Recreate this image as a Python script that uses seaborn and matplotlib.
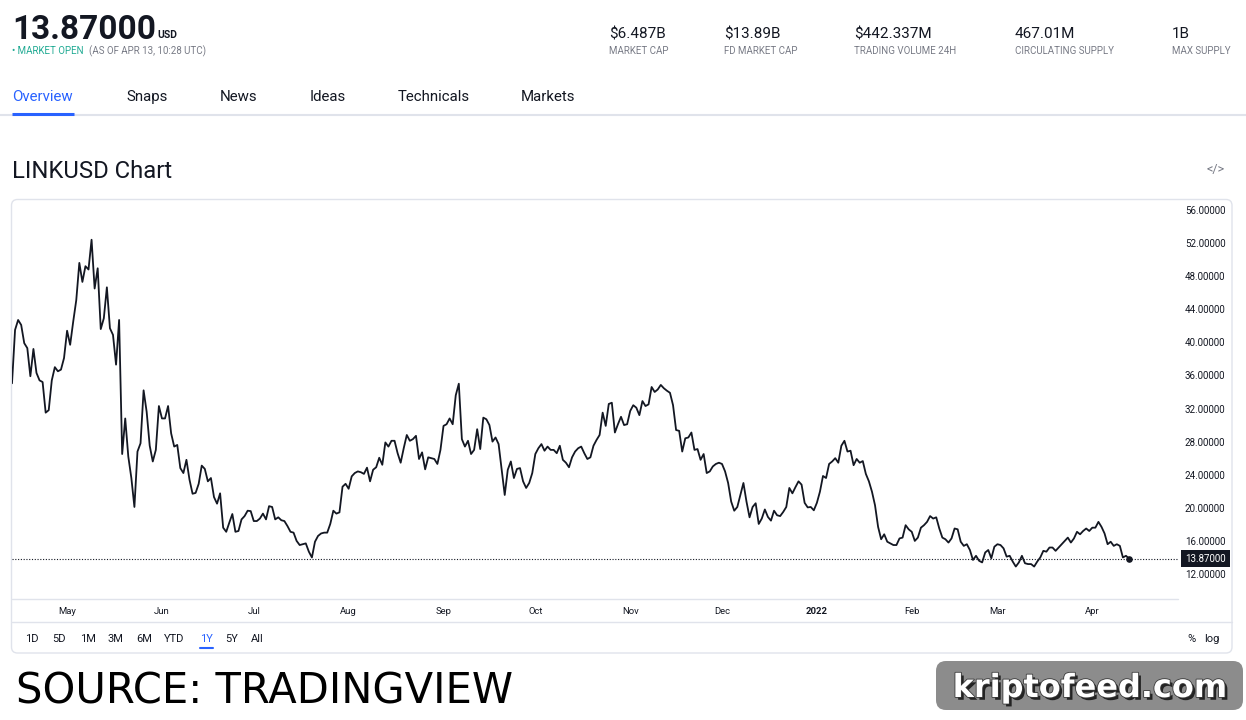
import matplotlib
matplotlib.use('Agg')
import matplotlib.pyplot as plt
import matplotlib.patheffects as pe
from matplotlib.patches import FancyBboxPatch
import pandas as pd
import seaborn as sns

# LINKUSD daily close, 13 Apr 2021 -> 13 Apr 2022
start_date = '2021-04-13'
prices = [
    35.05, 41.5, 42.7, 42.1, 39.9, 39.3, 35.9, 39.2, 36.3, 35.4,
    35.2, 31.5, 31.8, 35.4, 37.0, 36.5, 36.7, 38.1, 41.4, 39.7,
    42.5, 45.1, 49.6, 47.3, 49.2, 48.8, 52.4, 46.5, 48.95, 41.6,
    42.9, 46.65, 41.7, 40.9, 37.3, 42.7, 26.5, 30.8, 26.2, 23.6,
    20.1, 26.8, 27.8, 34.2, 31.6, 27.5, 25.6, 27.0, 32.3, 30.8,
    30.8, 32.3, 29.0, 27.4, 27.6, 24.8, 24.2, 25.8, 23.4, 21.7,
    21.8, 22.9, 25.1, 24.7, 23.2, 23.6, 21.3, 20.5, 21.75, 17.6,
    17.1, 18.2, 19.25, 17.1, 17.2, 18.6, 19.0, 19.65, 19.6, 18.4,
    18.4, 18.7, 19.3, 18.6, 20.2, 20.1, 18.6, 18.85, 18.5, 18.4,
    17.8, 17.1, 17.0, 16.0, 15.5, 15.6, 15.7, 14.7, 14.0, 15.9,
    16.6, 16.9, 17.0, 17.0, 18.05, 19.65, 19.3, 19.45, 22.55, 22.9,
    22.3, 23.8, 24.2, 24.4, 24.3, 24.1, 24.85, 23.2, 24.6, 24.9,
    26.05, 25.2, 27.9, 27.4, 28.1, 28.1, 26.6, 25.45, 27.2, 28.8,
    28.1, 28.3, 28.7, 25.9, 26.7, 24.65, 26.1, 26.0, 25.9, 25.3,
    27.0, 29.9, 30.1, 30.8, 30.1, 33.6, 35.0, 28.3, 27.4, 28.1,
    26.5, 27.0, 29.5, 27.1, 30.9, 30.7, 30.0, 28.0, 28.5, 27.7,
    24.6, 21.55, 24.6, 25.6, 23.6, 24.7, 24.8, 23.2, 22.4, 23.0,
    24.2, 26.5, 27.2, 27.7, 26.9, 27.4, 27.0, 27.0, 26.6, 27.5,
    25.8, 25.45, 24.9, 26.1, 26.8, 27.2, 27.4, 26.6, 25.9, 26.1,
    27.5, 28.2, 28.8, 31.5, 29.9, 32.55, 32.7, 29.1, 30.1, 31.0,
    30.0, 30.1, 31.7, 32.4, 32.1, 31.2, 32.9, 32.3, 32.5, 34.6,
    34.0, 34.3, 34.85, 34.45, 34.15, 33.9, 32.4, 29.4, 29.3, 26.8,
    28.4, 28.5, 29.1, 27.0, 27.1, 25.8, 26.5, 24.2, 24.4, 25.0,
    25.3, 25.45, 25.3, 24.4, 23.0, 20.75, 19.65, 20.1, 21.55, 23.0,
    20.75, 18.85, 20.1, 20.55, 18.05, 18.7, 19.8, 18.9, 18.45, 19.65,
    19.1, 19.0, 19.5, 20.1, 22.4, 21.75, 22.5, 23.2, 22.8, 20.6,
    20.05, 20.1, 19.7, 20.6, 21.95, 23.85, 23.6, 25.3, 25.6, 26.0,
    25.45, 27.5, 28.1, 26.8, 26.9, 25.15, 25.9, 25.45, 25.65, 24.1,
    23.2, 21.95, 20.3, 17.7, 16.2, 16.8, 15.9, 15.7, 15.5, 15.5,
    16.3, 16.4, 17.9, 17.4, 17.1, 16.0, 16.4, 17.6, 17.9, 18.3,
    19.0, 18.7, 18.85, 17.5, 16.4, 16.2, 15.8, 16.3, 17.5, 17.4,
    15.9, 15.4, 15.6, 14.9, 13.7, 14.2, 13.6, 13.4, 14.6, 14.9,
    13.9, 15.3, 15.6, 15.5, 15.1, 14.1, 14.2, 13.5, 12.9, 13.4,
    14.2, 13.3, 13.2, 13.2, 12.9, 13.5, 14.0, 14.8, 14.7, 15.2,
    15.2, 14.8, 15.2, 15.6, 16.0, 16.4, 15.8, 16.3, 17.1, 16.8,
    17.2, 17.5, 17.2, 17.6, 17.6, 18.3, 17.7, 16.9, 15.6, 15.9,
    15.4, 15.6, 15.4, 14.0, 14.2, 13.87,
]
last_price = 13.87

month_ticks = ['2021-05-01', '2021-06-01', '2021-07-01', '2021-08-01', '2021-09-01', '2021-10-01',
               '2021-11-01', '2021-12-01', '2022-01-01', '2022-02-01', '2022-03-01', '2022-04-01']
month_labels = ['May', 'Jun', 'Jul', 'Aug', 'Sep', 'Oct', 'Nov', 'Dec', '2022', 'Feb', 'Mar', 'Apr']
price_ticks = [12, 16, 20, 24, 28, 32, 36, 40, 44, 48, 52, 56]

stat_values = ['$6.487B', '$13.89B', '$442.337M', '467.01M', '1B']
stat_labels = ['MARKET CAP', 'FD MARKET CAP', 'TRADING VOLUME 24H', 'CIRCULATING SUPPLY', 'MAX SUPPLY']
tabs = ['Overview', 'Snaps', 'News', 'Ideas', 'Technicals', 'Markets']
ranges = ['1D', '5D', '1M', '3M', '6M', 'YTD', '1Y', '5Y', 'All']

df = pd.DataFrame({'date': pd.date_range(start_date, periods=len(prices), freq='D'),
                   'price': prices})

sns.set_theme(style='white')
plt.rcParams['font.family'] = ['Roboto', 'DejaVu Sans']

DARK = '#131722'
GREY = '#787b86'
BLUE = '#2962ff'
LINE = '#e0e3eb'

W, H = 1246, 720
fig = plt.figure(figsize=(W / 100, H / 100), dpi=100)

# background axes in pixel coordinates for the page furniture
bg = fig.add_axes([0, 0, 1, 1])
bg.set_xlim(0, W)
bg.set_ylim(H, 0)
bg.axis('off')

# header
bg.text(12, 39, '13.87000', fontsize=24, fontweight='bold', color=DARK, va='baseline')
bg.text(157, 38, 'USD', fontsize=7.5, fontweight='bold', color=DARK, va='baseline')
bg.text(12, 54, '\u2022 MARKET OPEN', fontsize=7, color='#22ab94', va='baseline')
bg.text(89, 54, '(AS OF APR 13, 10:28 UTC)', fontsize=7, color=GREY, va='baseline')

stat_x = [609, 724, 854, 1015, 1172]
for x, v, lab in zip(stat_x, stat_values, stat_labels):
    bg.text(x, 38, v, fontsize=11, color=DARK, va='baseline')
    bg.text(x, 54, lab, fontsize=7, color=GREY, va='baseline')

# tabs
tab_x = [12, 126, 220, 310, 398, 521]
for x, t in zip(tab_x, tabs):
    bg.text(x, 101, t, fontsize=10.8, color=BLUE if t == 'Overview' else DARK, va='baseline')
bg.plot([0, W], [115, 115], color=LINE, lw=1.5)
bg.plot([12, 74], [113.5, 113.5], color=BLUE, lw=2.2, solid_capstyle='butt')

bg.text(12, 178, 'LINKUSD Chart', fontsize=17.2, color=DARK, va='baseline')
bg.text(1216, 169, '</>', fontsize=9, color=GREY, ha='center', va='center')

# chart frame
bg.add_patch(FancyBboxPatch((11.5, 199.5), 1220.5, 453.5, boxstyle='round,pad=0,rounding_size=6',
                            ec=LINE, fc='none', lw=1))
bg.plot([12, 1178], [599, 599], color=LINE, lw=1)
bg.plot([12, 1232], [622, 622], color=LINE, lw=1)

# range buttons
range_x = [25, 52, 80, 108, 136, 164, 200, 225, 251]
for x, r in zip(range_x, ranges):
    bg.text(x, 642, r, fontsize=8, color=BLUE if r == '1Y' else DARK, va='baseline')
bg.plot([200, 213], [648, 648], color=BLUE, lw=1.5)
bg.text(1187, 642, '%', fontsize=8, color=DARK, va='baseline')
bg.text(1204, 642, 'log', fontsize=8, color=DARK, va='baseline')

# source + watermark
bg.text(16, 703, 'SOURCE: TRADINGVIEW', fontsize=30, color='black', family='DejaVu Sans', va='baseline')
bg.add_patch(FancyBboxPatch((936, 661), 307, 49, boxstyle='round,pad=0,rounding_size=10',
                            fc='#8c8c8c', ec='none'))
bg.text(1090, 697, 'kriptofeed.com', fontsize=23, fontweight='bold', family='DejaVu Sans',
        color='white', ha='center', va='baseline',
        path_effects=[pe.withSimplePatchShadow(offset=(2, -2), shadow_rgbFace='black', alpha=0.75),
                      pe.Stroke(linewidth=1.2, foreground='#3a3a3a'), pe.Normal()])

# price chart
ax = fig.add_axes([12 / W, (H - 598) / H, (1178 - 12) / W, (598 - 200) / H])
ax.patch.set_alpha(0)
sns.lineplot(data=df, x='date', y='price', ax=ax, color=DARK, linewidth=1.3)
ax.axhline(last_price, color=DARK, ls=(0, (1, 1.5)), lw=0.8)
ax.scatter(df['date'].iloc[-1], df['price'].iloc[-1], s=14, color=DARK, zorder=3)

ax.set_xlim(df['date'].iloc[0], df['date'].iloc[-1] + pd.Timedelta(days=16))
ax.set_ylim(9.1, 57.2)
ax.yaxis.tick_right()
ax.set_yticks(price_ticks)
ax.set_yticklabels([f'{v:.5f}' for v in price_ticks])
ax.tick_params(axis='y', length=0, pad=5, labelsize=7, labelcolor=DARK)
ax.set_xticks(pd.to_datetime(month_ticks))
ax.set_xticklabels(month_labels)
ax.tick_params(axis='x', length=0, pad=6.5, labelsize=6.8, labelcolor=DARK)
for lbl in ax.get_xticklabels():
    if lbl.get_text() == '2022':
        lbl.set_fontweight('bold')
ax.set_xlabel('')
ax.set_ylabel('')
ax.grid(False)
for s in ax.spines.values():
    s.set_visible(False)

ax.text(1.0 + 7 / 1166, last_price, f'{last_price:.5f}', transform=ax.get_yaxis_transform(),
        ha='left', va='center', fontsize=7, color='white',
        bbox=dict(boxstyle='square,pad=0.4', fc=DARK, ec='none'))

fig.savefig('out.png', dpi=100)
